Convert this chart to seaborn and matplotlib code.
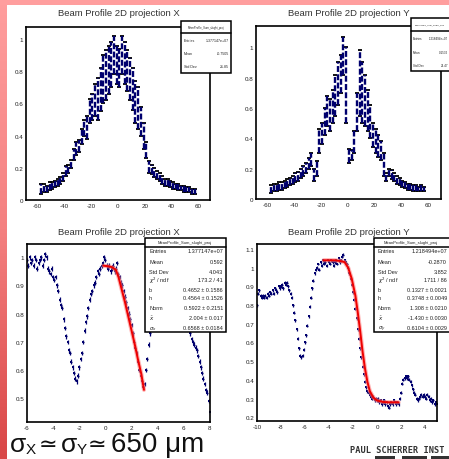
import numpy as np
import pandas as pd
import matplotlib
matplotlib.use("Agg")
import matplotlib.pyplot as plt
import seaborn as sns
from matplotlib.patches import Rectangle
from matplotlib.lines import Line2D
from matplotlib.ticker import MultipleLocator, FuncFormatter
from matplotlib.colors import LinearSegmentedColormap

W, H = 449, 460

# ---- top left: projection X (upper / lower edge of the dense stripes) ----
projx_pos = list(range(-57, 58, 2))
projx_hi = [0.10, 0.10, 0.09, 0.11, 0.11, 0.12, 0.13, 0.14, 0.17, 0.21,
            0.22, 0.25, 0.32, 0.36, 0.37, 0.44, 0.50, 0.52, 0.63, 0.66,
            0.72, 0.76, 0.82, 0.90, 0.93, 0.96, 0.98, 1.02, 0.96, 0.94,
            1.02, 0.98, 0.93, 0.88, 0.82, 0.74, 0.70, 0.58, 0.48, 0.36,
            0.24, 0.22, 0.20, 0.18, 0.17, 0.15, 0.13, 0.13, 0.12, 0.11,
            0.10, 0.10, 0.09, 0.09, 0.08, 0.08, 0.07, 0.07]
projx_lo = [0.04, 0.05, 0.05, 0.06, 0.07, 0.08, 0.09, 0.10, 0.12, 0.15,
            0.17, 0.20, 0.25, 0.28, 0.30, 0.35, 0.40, 0.38, 0.48, 0.50,
            0.52, 0.50, 0.55, 0.60, 0.62, 0.66, 0.70, 0.78, 0.72, 0.70,
            0.78, 0.72, 0.68, 0.62, 0.56, 0.48, 0.44, 0.40, 0.32, 0.26,
            0.17, 0.16, 0.14, 0.13, 0.12, 0.10, 0.09, 0.09, 0.08, 0.07,
            0.07, 0.06, 0.06, 0.05, 0.05, 0.05, 0.04, 0.04]

# ---- top right: projection Y ----
projy_pos = list(range(-57, 58, 2))
projy_hi = [0.09, 0.10, 0.10, 0.11, 0.11, 0.12, 0.13, 0.14, 0.15, 0.17,
            0.18, 0.20, 0.22, 0.24, 0.27, 0.30, 0.20, 0.25, 0.46, 0.50,
            0.60, 0.68, 0.66, 0.72, 0.82, 0.90, 0.95, 1.07, 1.00, 0.33,
            0.32, 0.45, 0.70, 0.98, 0.90, 0.82, 0.72, 0.62, 0.50, 0.46,
            0.42, 0.38, 0.30, 0.17, 0.20, 0.19, 0.17, 0.15, 0.14, 0.12,
            0.11, 0.10, 0.10, 0.09, 0.09, 0.08, 0.09, 0.08]
projy_lo = [0.04, 0.05, 0.05, 0.06, 0.06, 0.07, 0.08, 0.09, 0.10, 0.11,
            0.12, 0.14, 0.15, 0.17, 0.20, 0.22, 0.12, 0.15, 0.30, 0.36,
            0.42, 0.48, 0.45, 0.50, 0.55, 0.62, 0.70, 0.82, 0.50, 0.24,
            0.26, 0.30, 0.45, 0.55, 0.50, 0.48, 0.45, 0.40, 0.34, 0.30,
            0.28, 0.26, 0.15, 0.12, 0.15, 0.13, 0.12, 0.10, 0.09, 0.08,
            0.07, 0.06, 0.06, 0.05, 0.05, 0.05, 0.05, 0.05]

# ---- bottom left: zoomed projection X, x = -6.0 ... 8.0 step 0.1 ----
zoomx_pos = [round(-6.0 + 0.1 * i, 1) for i in range(141)]
zoomx_val = [0.99, 0.97, 1.00, 0.98, 0.99, 0.97, 1.00, 0.99, 0.96, 0.98, 0.99,
             1.00, 0.97, 0.99, 1.01, 1.00, 0.96, 0.95, 0.94, 0.96, 0.93,
             0.92, 0.93, 0.90, 0.88, 0.85, 0.83, 0.82, 0.78, 0.75, 0.72,
             0.70, 0.67, 0.66, 0.63, 0.61, 0.59, 0.57, 0.56, 0.58, 0.61,
             0.64, 0.66, 0.70, 0.74, 0.77, 0.79, 0.82, 0.85, 0.87, 0.88,
             0.90, 0.91, 0.93, 0.95, 0.94, 0.96, 0.97, 0.98, 1.00, 0.99,
             0.97, 0.96, 0.97, 0.95, 0.96, 0.97, 0.95, 0.96, 0.98, 0.94,
             0.93, 0.91, 0.90, 0.88, 0.86, 0.84, 0.82, 0.80, 0.78, 0.76,
             0.73, 0.70, 0.68, 0.66, 0.63, 0.60, 0.58, 0.56, 0.54, 0.55,
             0.60, 0.64, 0.69, 0.73, 0.77, 0.81, 0.85, 0.88, 0.91, 0.93,
             0.95, 0.97, 0.98, 0.99, 1.00, 0.99, 0.98, 0.99, 0.97, 0.98,
             0.96, 0.95, 0.93, 0.92, 0.90, 0.88, 0.86, 0.84, 0.82, 0.80,
             0.79, 0.78, 0.76, 0.75, 0.73, 0.71, 0.70, 0.69, 0.68, 0.67,
             0.65, 0.63, 0.61, 0.59, 0.57, 0.55, 0.53, 0.52, 0.49, 0.45]
fitx_pos = [-0.15, 0.2, 0.5, 0.8, 1.0, 1.25, 1.5, 1.75, 2.0, 2.25, 2.5, 2.75, 2.95]
fitx_val = [0.97, 0.968, 0.965, 0.955, 0.93, 0.885, 0.84, 0.79, 0.74, 0.69, 0.635, 0.585, 0.53]

# ---- bottom right: zoomed projection Y, x = -10.0 ... 5.0 step 0.1 ----
zoomy_pos = [round(-10.0 + 0.1 * i, 1) for i in range(151)]
zoomy_val = [0.80, 0.86, 0.88, 0.85, 0.84, 0.85, 0.84, 0.85, 0.84, 0.86,
             0.85, 0.87, 0.86, 0.88, 0.86, 0.89, 0.88, 0.87, 0.90, 0.89,
             0.90, 0.91, 0.89, 0.92, 0.91, 0.92, 0.90, 0.88, 0.86, 0.84,
             0.80, 0.76, 0.72, 0.67, 0.62, 0.57, 0.53, 0.52, 0.53, 0.56,
             0.60, 0.64, 0.69, 0.74, 0.79, 0.84, 0.89, 0.93, 0.97, 0.99,
             1.00, 1.02, 0.99, 1.03, 1.01, 1.04, 1.02, 1.03, 1.01, 1.04,
             1.03, 1.02, 1.04, 1.03, 1.01, 1.03, 1.04, 1.02, 1.05, 1.03,
             1.04, 1.06, 1.07, 1.04, 1.03, 1.02, 1.00, 0.97, 0.94, 0.91,
             0.87, 0.83, 0.78, 0.73, 0.67, 0.62, 0.57, 0.52, 0.47, 0.43,
             0.39, 0.36, 0.34, 0.33, 0.32, 0.31, 0.30, 0.31, 0.29, 0.30,
             0.29, 0.30, 0.28, 0.29, 0.27, 0.28, 0.29, 0.27, 0.28, 0.26,
             0.25, 0.27, 0.28, 0.27, 0.29, 0.28, 0.27, 0.28, 0.27, 0.30,
             0.33, 0.38, 0.40, 0.41, 0.42, 0.41, 0.42, 0.40, 0.39, 0.37,
             0.35, 0.33, 0.32, 0.30, 0.29, 0.30, 0.31, 0.32, 0.31, 0.32,
             0.31, 0.30, 0.32, 0.31, 0.29, 0.30, 0.28, 0.29, 0.27, 0.28, 0.27]
fity_pos = [-4.45, -4.0, -3.5, -3.0, -2.7, -2.4, -2.1, -1.8, -1.6, -1.4, -1.2,
            -1.0, -0.8, -0.6, -0.3, 0.0, 0.5, 1.0, 1.5, 1.8]
fity_val = [1.04, 1.04, 1.04, 1.035, 1.03, 1.00, 0.94, 0.85, 0.76, 0.66, 0.55,
            0.46, 0.39, 0.34, 0.305, 0.29, 0.282, 0.28, 0.28, 0.28]

# ---- stats boxes text ----
stats_tl = [("Entries", "1.377147e+07"), ("Mean", "-0.7505"), ("Std Dev", "21.85")]
stats_tr = [("Entries", "1.218494e+07"), ("Mean", "0.1532"), ("Std Dev", "21.47")]
stats_bl = [("Entries", "1.377147e+07"), ("Mean", "0.592"), ("Std Dev", "4.043"),
            (r"$\chi^2$ / ndf", "173.2 / 41"), ("b", "0.4652 ± 0.1586"),
            ("h", "0.4564 ± 0.1526"), ("Norm", "0.5922 ± 0.2151"),
            (r"$\bar{x}$", "2.004 ± 0.017"), (r"$\sigma_x$", "0.6568 ± 0.0184")]
stats_br = [("Entries", "1.218494e+07"), ("Mean", "-0.2870"), ("Std Dev", "3.852"),
            (r"$\chi^2$ / ndf", "1711 / 86"), ("b", "0.1327 ± 0.0021"),
            ("h", "0.3748 ± 0.0049"), ("Norm", "1.308 ± 0.0210"),
            (r"$\bar{x}$", "-1.430 ± 0.0030"), (r"$\sigma_y$", "0.6104 ± 0.0029")]

sns.set_style("white")
plt.rcParams['font.family'] = ['Liberation Sans', 'DejaVu Sans']
plt.rcParams['axes.unicode_minus'] = False

NAVY = "#00006e"
fig = plt.figure(figsize=(W / 100, H / 100), dpi=100)
fig.patch.set_facecolor("white")


def fx(x):
    return x / W


def fy(y):
    return 1 - y / H


# background of the slide: pink band on top, pink->red strip on the left
bg = fig.add_axes([0, 0, 1, 1], zorder=-10)
bg.set_xlim(0, W)
bg.set_ylim(H, 0)
bg.axis("off")
cmap = LinearSegmentedColormap.from_list("slide", ["#ff9e9e", "#f48080", "#d94646"])
bg.imshow(np.linspace(0, 1, 256).reshape(-1, 1), cmap=cmap, aspect="auto",
          extent=[0, 7, H, 0])
bg.add_patch(Rectangle((0, 0), W, 6, color="#ff9e9e", lw=0))


def style_axes(ax, xlim, ylim, xmaj, ymaj):
    ax.set_xlim(xlim)
    ax.set_ylim(ylim)
    ax.xaxis.set_major_locator(MultipleLocator(xmaj))
    ax.xaxis.set_minor_locator(MultipleLocator(xmaj / 5))
    ax.yaxis.set_major_locator(MultipleLocator(ymaj))
    ax.yaxis.set_minor_locator(MultipleLocator(ymaj / 5))
    fmt = FuncFormatter(lambda v, p: "%g" % round(v, 3))
    ax.xaxis.set_major_formatter(fmt)
    ax.yaxis.set_major_formatter(fmt)
    ax.tick_params(which="both", direction="in", top=False, right=False,
                   labelsize=4.5, colors="#222222", pad=2)
    ax.tick_params(which="major", length=3.5, width=0.8)
    ax.tick_params(which="minor", length=1.8, width=0.8)
    for s in ax.spines.values():
        s.set_linewidth(1.2)
        s.set_color("black")
    ax.set_xlabel("")
    ax.set_ylabel("")


def stripes(ax, pos, hi, lo):
    df = pd.DataFrame({"x": pos, "hi": hi, "lo": lo})
    df["mid"] = (df["hi"] + df["lo"]) / 2
    df["half"] = (df["hi"] - df["lo"]) / 2
    eb = ax.errorbar(df["x"], df["mid"], yerr=df["half"], fmt="none",
                     ecolor=NAVY, elinewidth=1.7)
    eb[2][0].set_linestyle((0, (2.5, 1.0)))
    sns.scatterplot(data=df, x="x", y="hi", ax=ax, marker="_", s=10,
                    color="black", linewidth=1.3, legend=False)
    sns.scatterplot(data=df, x="x", y="lo", ax=ax, marker="_", s=10,
                    color="black", linewidth=1.3, legend=False)


def points(ax, pos, val, xerr):
    df = pd.DataFrame({"x": pos, "y": val})
    ax.errorbar(df["x"], df["y"], xerr=xerr, yerr=0.008, fmt="none",
                ecolor=NAVY, elinewidth=0.9)
    sns.scatterplot(data=df, x="x", y="y", ax=ax, marker="s", s=3,
                    color=NAVY, linewidth=0, legend=False)


def fit(ax, pos, val):
    df = pd.DataFrame({"x": pos, "y": val})
    sns.lineplot(data=df, x="x", y="y", ax=ax, color="#ff8080", linewidth=3.0,
                 alpha=0.6, legend=False)
    sns.lineplot(data=df, x="x", y="y", ax=ax, color="#ee0000", linewidth=1.4,
                 legend=False)


def stats_box(x0, y0, x1, y1, head_x, head_y, sep_y, rows, row_y, lab_x, val_x, fs):
    fig.add_artist(Rectangle((fx(x0), fy(y1)), fx(x1 - x0), (y1 - y0) / H,
                             transform=fig.transFigure, facecolor="white",
                             edgecolor="black", lw=1.1, zorder=5))
    fig.add_artist(Line2D([fx(x0), fx(x1)], [fy(sep_y), fy(sep_y)],
                          transform=fig.transFigure, color="black", lw=1.1,
                          zorder=6))
    fig.text(fx(head_x), fy(head_y), "MeanProfile_Sum_slughi_proj",
             fontsize=fs * 0.75, ha="center", va="center", color="#222222",
             zorder=7)
    for (lab, val), yy in zip(rows, row_y):
        fig.text(fx(lab_x), fy(yy), lab, fontsize=fs, ha="left",
                 va="center", color="#222222", zorder=7)
        fig.text(fx(val_x), fy(yy), val, fontsize=fs, ha="right",
                 va="center", color="#222222", zorder=7)


# ---- panels ----
ax1 = fig.add_axes([fx(26), fy(201), fx(184), 173 / H])
stripes(ax1, projx_pos, projx_hi, projx_lo)
style_axes(ax1, (-68.5, 68.5), (0, 1.075), 20, 0.2)

ax2 = fig.add_axes([fx(256), fy(200), fx(185), 173 / H])
stripes(ax2, projy_pos, projy_hi, projy_lo)
style_axes(ax2, (-68.5, 70), (0, 1.14), 20, 0.2)

ax3 = fig.add_axes([fx(27), fy(423), fx(183), 178 / H])
points(ax3, zoomx_pos, zoomx_val, 0.05)
fit(ax3, fitx_pos, fitx_val)
style_axes(ax3, (-6, 8), (0.416, 1.047), 2, 0.1)

ax4 = fig.add_axes([fx(257), fy(422), fx(180), 177 / H])
points(ax4, zoomy_pos, zoomy_val, 0.05)
fit(ax4, fity_pos, fity_val)
style_axes(ax4, (-10, 5), (0.18, 1.127), 2, 0.1)

# titles
fig.text(fx(119), fy(14), "Beam Profile 2D projection X", fontsize=6.8,
         ha="center", va="center", color="#333333")
fig.text(fx(349), fy(13), "Beam Profile 2D projection Y", fontsize=6.8,
         ha="center", va="center", color="#333333")
fig.text(fx(119), fy(233), "Beam Profile 2D projection X", fontsize=6.8,
         ha="center", va="center", color="#333333")
fig.text(fx(349), fy(233), "Beam Profile 2D projection Y", fontsize=6.8,
         ha="center", va="center", color="#333333")

# stats boxes (the right ones run past the slide edge)
stats_box(181, 22, 231, 74, 206, 28, 34, stats_tl, [41, 54, 67], 184, 229, 2.6)
stats_box(411, 19, 470, 72, 430, 25, 32, stats_tr, [39, 53, 66], 413, 448, 2.2)
stats_box(145, 239, 226, 333, 185, 243, 247.5, stats_bl,
          [252, 262, 272, 281, 290, 299, 309, 319, 329], 149, 223, 4.0)
stats_box(374, 239, 476, 333, 411, 243, 247.5, stats_br,
          [252, 262, 272, 281, 290, 299, 309, 319, 329], 378, 447, 4.0)

# slide annotation: sigma_X ~ sigma_Y ~ 650 um, built from pieces
base = 452
for xx, txt, fs, dy in [(10, "σ", 19, 0), (26, "X", 11, 2), (39, "≃", 16, -1),
                        (61, "σ", 19, 0), (77, "Y", 11, 2), (88, "≃", 16, -1),
                        (111, "650 μm", 20, 0)]:
    fig.text(fx(xx), fy(base + dy), txt, fontsize=fs, ha="left",
             va="baseline", color="#111111")
fig.text(fx(350), fy(451), "PAUL SCHERRER INST", fontsize=6.2,
         family="DejaVu Sans Mono", weight="bold", ha="left", va="center",
         color="#333333")
for x0, x1 in [(375, 395), (402, 427), (431, 449)]:
    fig.add_artist(Rectangle((fx(x0), 0), fx(x1 - x0), 3 / H,
                             transform=fig.transFigure, color="#333333", lw=0))

fig.savefig("out.png", dpi=100)
